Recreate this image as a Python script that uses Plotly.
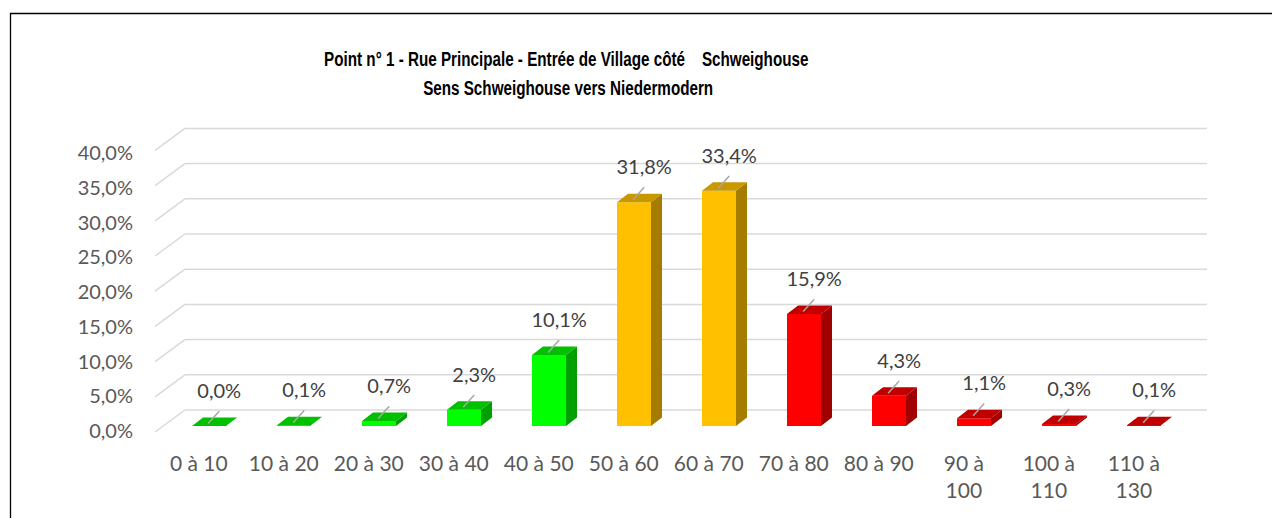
import plotly.graph_objects as go

# ---------------- data ----------------
categories = ["0 à 10", "10 à 20", "20 à 30", "30 à 40", "40 à 50", "50 à 60",
              "60 à 70", "70 à 80", "80 à 90", "90 à<br>100", "100 à<br>110", "110 à<br>130"]
values = [0.0, 0.1, 0.7, 2.3, 10.1, 31.8, 33.4, 15.9, 4.3, 1.1, 0.3, 0.1]
groups = ["g", "g", "g", "g", "g", "o", "o", "r", "r", "r", "r", "r"]
y_ticks = [0, 5, 10, 15, 20, 25, 30, 35, 40]
title_lines = ["Point n° 1 - Rue Principale - Entrée de Village côté    Schweighouse",
               "Sens Schweighouse vers Niedermodern"]

# ---------------- style ----------------
W, H = 1272, 518
FRONT = {"g": "#00FF00", "o": "#FFC000", "r": "#FF0000"}
TOP = {"g": "#00C000", "o": "#C99700", "r": "#C00000"}
SIDE = {"g": "#00A000", "o": "#A67C00", "r": "#A00000"}
LABEL_FONT = "Lato, Carlito, Calibri, sans-serif"

PX_PER_UNIT_Y = 7.04          # pixels per percent
PX_PER_CAT = 85.0
X0_PX = 209.0                 # pixel of first bar centre
Y0_PX = 426.0                 # pixel of bar base
BAR_W = 0.4
DEPTH_X = 11 / PX_PER_CAT
DEPTH_Y = 8.5 / PX_PER_UNIT_Y
BACK_OFF = 16 / PX_PER_UNIT_Y  # back wall offset
DIAG_OFF = 6 / PX_PER_UNIT_Y   # diagonal start below the front

x_dom = [124 / W, 1246 / W]
x_rng = [(124 - X0_PX) / PX_PER_CAT, (1246 - X0_PX) / PX_PER_CAT]
y_bottom_px = 449
y_dom = [(H - y_bottom_px) / H, 1]
y_rng = [(Y0_PX - y_bottom_px) / PX_PER_UNIT_Y, Y0_PX / PX_PER_UNIT_Y]
# tick-label axis: 0 -> px 431, 40 -> px 153
TL_PX0, TL_SCALE = 431.0, 6.95
y3_rng = [(TL_PX0 - y_bottom_px) / TL_SCALE, TL_PX0 / TL_SCALE]

xs = list(range(len(values)))

fig = go.Figure()

# front faces
fig.add_trace(go.Bar(
    x=xs, y=values, width=BAR_W,
    marker=dict(color=[FRONT[g] for g in groups], line=dict(width=0)),
    hoverinfo="skip", showlegend=False))

# side and top faces
for key in ["g", "o", "r"]:
    sx, sy, tx, ty = [], [], [], []
    for i, (v, g) in enumerate(zip(values, groups)):
        if g != key:
            continue
        r = i + BAR_W / 2
        l = i - BAR_W / 2
        sx += [r, r + DEPTH_X, r + DEPTH_X, r, r, None]
        sy += [0, DEPTH_Y, v + DEPTH_Y, v, 0, None]
        tx += [l, r, r + DEPTH_X, l + DEPTH_X, l, None]
        ty += [v, v, v + DEPTH_Y, v + DEPTH_Y, v, None]
    fig.add_trace(go.Scatter(x=sx, y=sy, mode="lines", fill="toself",
                             fillcolor=SIDE[key], line=dict(width=0, color=SIDE[key]),
                             hoverinfo="skip", showlegend=False))
    fig.add_trace(go.Scatter(x=tx, y=ty, mode="lines", fill="toself",
                             fillcolor=TOP[key], line=dict(width=0, color=TOP[key]),
                             hoverinfo="skip", showlegend=False))

# leader lines
lx, ly = [], []
for i, v in enumerate(values):
    lx += [i - 0.01, i + 0.12, None]
    ly += [v + 0.35, v + 2.1, None]
fig.add_trace(go.Scatter(x=lx, y=ly, mode="lines",
                         line=dict(color="#A6A6A6", width=1.5),
                         hoverinfo="skip", showlegend=False))

# data labels
fig.add_trace(go.Scatter(
    x=[i + 0.12 for i in xs], y=[v + 4.7 for v in values], mode="text",
    text=[f"{v:.1f}%".replace(".", ",") for v in values],
    textfont=dict(family=LABEL_FONT, size=20, color="#404040"),
    hoverinfo="skip", showlegend=False, cliponaxis=False))

# dummy trace for the tick-label axis
fig.add_trace(go.Scatter(x=[0], y=[0], yaxis="y3", mode="markers",
                         marker=dict(opacity=0), hoverinfo="skip", showlegend=False))

# back-wall gridlines and diagonals
shapes = []
for t in y_ticks:
    shapes.append(dict(type="line", xref="paper", yref="y", layer="below",
                       x0=185 / W, x1=1207 / W, y0=t + BACK_OFF, y1=t + BACK_OFF,
                       line=dict(color="#D9D9D9", width=1.5)))
    shapes.append(dict(type="line", xref="paper", yref="y", layer="below",
                       x0=155 / W, x1=185 / W, y0=t - DIAG_OFF, y1=t + BACK_OFF,
                       line=dict(color="#D9D9D9", width=1.5)))
# chart border
shapes.append(dict(type="rect", xref="paper", yref="paper",
                   x0=10.5 / W, x1=1.05, y0=-0.05, y1=1 - 13.5 / H,
                   line=dict(color="#000000", width=1.3)))

title_font = dict(family="Liberation Sans, Arial, sans-serif", size=21, color="#000000")
annotations = [
    dict(text="<b>" + title_lines[0] + "</b>", xref="paper", yref="paper",
         x=566 / W, y=1 - 58 / H, xanchor="center", yanchor="middle",
         showarrow=False, font=title_font),
    dict(text="<b>" + title_lines[1] + "</b>", xref="paper", yref="paper",
         x=568 / W, y=1 - 87 / H, xanchor="center", yanchor="middle",
         showarrow=False, font=title_font),
]

fig.update_layout(
    width=W, height=H,
    margin=dict(l=0, r=0, t=0, b=0, autoexpand=False),
    paper_bgcolor="white", plot_bgcolor="rgba(0,0,0,0)",
    showlegend=False,
    shapes=shapes,
    annotations=annotations,
    xaxis=dict(domain=x_dom, range=x_rng, showgrid=False, zeroline=False,
               showline=False, ticks="",
               tickmode="array", tickvals=[i - 0.12 for i in xs], ticktext=categories,
               tickangle=0,
               tickfont=dict(family=LABEL_FONT, size=21, color="#595959")),
    yaxis=dict(domain=y_dom, range=y_rng, visible=False, showgrid=False, zeroline=False),
    yaxis3=dict(overlaying="y", anchor="free", position=133 / W, side="left",
                range=y3_rng,
                tickmode="array", tickvals=y_ticks,
                ticktext=[f"{t:.1f}%".replace(".", ",") for t in y_ticks],
                showgrid=False, zeroline=False, showline=False, ticks="",
                tickfont=dict(family=LABEL_FONT, size=20, color="#595959")),
)

post = """
document.body.style.margin = '0';
document.querySelectorAll('.annotation-text').forEach(function (t) {
    t.style.transformBox = 'fill-box';
    t.style.transformOrigin = 'center';
    t.style.transform = 'scaleX(0.725)';
});
"""

fig.write_html("out.html", post_script=post, config={"displayModeBar": False})
